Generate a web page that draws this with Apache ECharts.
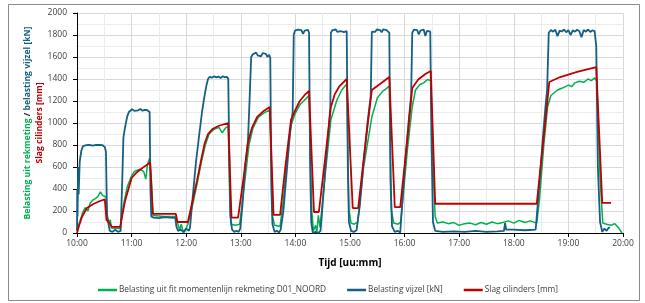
<!DOCTYPE html>
<html><head><meta charset="utf-8">
<script src="https://cdn.jsdelivr.net/npm/echarts@6/dist/echarts.min.js"></script>
<style>html,body{margin:0;padding:0;background:#fff}#c{width:645px;height:303px}</style>
</head><body><div id="c"></div>
<script>
// x in decimal hours (10 = 10:00)
const xTicks = [10,11,12,13,14,15,16,17,18,19,20];
const seriesNames = ['Belasting uit fit momentenlijn rekmeting D01_NOORD','Belasting vijzel [kN]','Slag cilinders [mm]'];

const greenData = [
[10.00,30],[10.02,40],[10.05,100],[10.10,180],[10.15,230],[10.18,240],[10.20,200],[10.24,270],[10.29,300],[10.33,310],[10.38,330],[10.43,375],[10.47,340],[10.53,330],[10.56,145],[10.58,90],[10.61,120],[10.63,45],[10.79,40],
[10.85,250],[10.92,420],[11.00,520],[11.05,560],[11.15,580],[11.22,560],[11.26,490],[11.29,620],[11.33,680],[11.36,500],[11.39,160],[11.60,150],[11.81,150],[11.84,90],[11.88,30],[11.91,80],[11.95,0],[11.98,20],[12.03,80],
[12.12,260],[12.20,450],[12.28,650],[12.35,800],[12.42,900],[12.50,940],[12.60,960],[12.66,910],[12.72,955],[12.77,970],[12.80,250],[12.82,80],[12.90,70],[12.98,80],
[13.08,500],[13.15,800],[13.22,950],[13.32,1050],[13.42,1090],[13.53,1120],[13.58,150],[13.62,70],[13.72,60],
[13.78,300],[13.85,700],[13.92,980],[14.00,1090],[14.08,1164],[14.18,1215],[14.25,1250],[14.30,200],[14.33,20],[14.37,70],[14.39,0],[14.42,160],[14.45,50],
[14.55,550],[14.65,1030],[14.76,1209],[14.85,1300],[14.94,1355],[14.98,200],[15.02,90],[15.08,80],[15.14,100],
[15.25,600],[15.40,1055],[15.50,1227],[15.60,1290],[15.66,1310],[15.72,1336],[15.76,200],[15.80,90],[15.88,80],[15.93,100],
[16.05,750],[16.14,1150],[16.20,1300],[16.28,1350],[16.35,1365],[16.42,1395],[16.48,1385],[16.52,600],[16.56,150],[16.60,90],[16.70,100],[16.80,85],[16.90,95],[17.00,70],[17.10,85],[17.20,90],[17.30,75],[17.40,95],[17.50,80],[17.60,100],[17.70,85],[17.80,95],[17.90,110],[18.00,90],[18.10,115],[18.20,95],[18.30,110],[18.42,90],
[18.47,300],[18.55,800],[18.62,1150],[18.68,1250],[18.80,1300],[18.90,1320],[19.00,1345],[19.06,1330],[19.12,1365],[19.20,1380],[19.28,1370],[19.36,1400],[19.42,1385],[19.48,1410],[19.52,1380],[19.58,500],[19.63,90],[19.70,80],[19.78,70],[19.85,85],[19.93,40],[19.98,0]
];

const blueData = [
[10.00,20],[10.005,400],[10.01,150],[10.02,600],[10.03,350],[10.05,650],[10.08,750],[10.11,790],[10.14,805],[10.17,798],[10.20,812],[10.23,800],[10.26,808],[10.29,795],[10.32,810],[10.35,802],[10.38,815],[10.41,800],[10.44,806],[10.47,798],[10.50,805],[10.51,780],[10.53,740],[10.55,150],[10.57,100],[10.60,20],[10.65,10],[10.70,30],[10.75,10],[10.80,20],
[10.81,30],[10.83,500],[10.85,870],[10.88,960],[10.92,1060],[10.95,1100],[10.98,1118],[11.01,1125],[11.05,1110],[11.08,1122],[11.12,1115],[11.16,1128],[11.20,1112],[11.24,1120],[11.28,1118],[11.31,1125],[11.33,1100],[11.345,400],[11.36,150],[11.40,140],[11.50,135],[11.60,145],[11.70,140],[11.80,138],[11.82,60],[11.85,20],[11.90,30],[11.95,10],[12.00,40],[12.05,20],
[12.07,50],[12.12,330],[12.18,650],[12.24,900],[12.29,1100],[12.33,1230],[12.37,1340],[12.40,1400],[12.43,1420],[12.47,1412],[12.51,1425],[12.55,1415],[12.59,1422],[12.63,1410],[12.67,1424],[12.71,1416],[12.75,1420],[12.77,1400],[12.79,700],[12.81,150],[12.84,30],[12.88,10],[12.92,20],[12.96,10],[12.99,40],
[13.03,250],[13.08,600],[13.13,830],[13.16,1200],[13.19,1600],[13.22,1625],[13.25,1610],[13.28,1640],[13.31,1615],[13.34,1630],[13.37,1605],[13.40,1635],[13.43,1618],[13.46,1628],[13.49,1600],[13.52,1620],[13.54,1590],[13.56,400],[13.58,80],[13.62,10],[13.66,20],[13.70,5],[13.73,30],
[13.78,200],[13.84,550],[13.90,900],[13.95,1100],[13.97,1800],[13.99,1840],[14.02,1825],[14.05,1848],[14.08,1830],[14.11,1845],[14.14,1810],[14.17,1840],[14.20,1832],[14.23,1846],[14.25,1820],[14.27,600],[14.29,100],[14.32,0],[14.37,10],[14.42,0],[14.46,20],
[14.49,200],[14.55,600],[14.61,950],[14.64,1150],[14.65,1820],[14.68,1845],[14.71,1830],[14.74,1850],[14.77,1828],[14.80,1842],[14.83,1835],[14.86,1848],[14.89,1826],[14.92,1840],[14.94,1835],[14.96,600],[14.98,100],[15.02,20],[15.07,10],[15.12,25],[15.15,10],
[15.18,250],[15.25,650],[15.32,1000],[15.38,1250],[15.40,1830],[15.43,1845],[15.46,1828],[15.49,1850],[15.52,1838],[15.55,1845],[15.58,1825],[15.61,1852],[15.64,1835],[15.67,1845],[15.70,1830],[15.72,1820],[15.74,500],[15.77,60],[15.82,10],[15.87,20],[15.92,5],
[15.96,300],[16.02,700],[16.08,1050],[16.12,1250],[16.14,1820],[16.17,1848],[16.20,1830],[16.23,1845],[16.26,1805],[16.29,1840],[16.32,1828],[16.35,1850],[16.38,1790],[16.41,1838],[16.44,1845],[16.47,1830],[16.49,900],[16.52,100],[16.56,20],[16.70,10],[16.90,15],[17.10,10],[17.30,20],[17.50,10],[17.70,15],[17.82,20],[17.84,90],[17.86,30],[18.00,30],[18.20,25],[18.40,30],[18.43,40],
[18.47,450],[18.53,850],[18.58,1150],[18.61,1300],[18.64,1820],[18.68,1845],[18.72,1830],[18.76,1848],[18.80,1790],[18.84,1840],[18.88,1832],[18.92,1850],[18.96,1825],[19.00,1845],[19.04,1800],[19.08,1842],[19.12,1830],[19.16,1848],[19.20,1835],[19.24,1780],[19.28,1845],[19.32,1830],[19.36,1850],[19.40,1828],[19.44,1842],[19.48,1835],[19.50,1840],[19.51,1700],[19.54,600],[19.58,100],[19.62,10],[19.66,40],[19.70,20],[19.74,50],[19.76,45]
];

const redData = [
[10.00,0],[10.04,70],[10.09,145],[10.18,227],[10.30,264],[10.42,291],[10.51,305],[10.54,118],[10.58,100],[10.64,55],[10.79,55],
[10.88,290],[11.00,500],[11.08,545],[11.15,573],[11.25,610],[11.34,640],[11.39,173],[11.81,173],[11.84,100],[12.03,100],
[12.12,300],[12.20,480],[12.28,680],[12.34,818],[12.40,900],[12.48,945],[12.60,975],[12.77,1000],[12.83,140],[12.95,140],
[13.05,500],[13.13,818],[13.20,950],[13.30,1055],[13.42,1110],[13.53,1145],[13.60,165],[13.72,165],
[13.82,620],[13.92,1030],[14.00,1120],[14.08,1200],[14.17,1255],[14.25,1291],[14.34,191],[14.43,191],
[14.55,700],[14.65,1145],[14.72,1260],[14.80,1330],[14.94,1400],[15.05,227],[15.15,227],
[15.28,800],[15.40,1300],[15.55,1355],[15.72,1418],[15.82,236],[15.92,236],
[16.05,850],[16.14,1318],[16.25,1395],[16.38,1445],[16.48,1473],[16.56,266],[18.42,266],
[18.55,880],[18.65,1373],[18.85,1418],[19.16,1464],[19.51,1509],[19.62,273],[19.78,273]
];

const chart = echarts.init(document.getElementById('c'), null, {renderer:'canvas'});
const FONT = '"Open Sans", "Noto Sans", sans-serif';
chart.setOption({
  animation:false,
  backgroundColor:'#ffffff',
  textStyle:{fontFamily:FONT},
  grid:{left:77, right:22, top:13, bottom:70, containLabel:false},
  graphic:[{type:'rect', shape:{x:8.5,y:4.5,width:631,height:296}, style:{fill:'none', stroke:'#8a8a8a', lineWidth:1}, silent:true, z:-1}],
  legend:{
    left:93, top:281, icon:'rect', itemWidth:19, itemHeight:2.5, itemGap:21,
    textStyle:{fontSize:8.3, color:'#404040', fontFamily:FONT, padding:[0,0,0,-3]},
    data:seriesNames
  },
  xAxis:{
    type:'value', min:10, max:20, interval:1,
    name:'Tijd [uu:mm]', nameLocation:'middle', nameGap:25, nameMoveOverlap:false,
    nameTextStyle:{fontSize:10, fontWeight:'bold', color:'#000', fontFamily:FONT},
    axisLine:{show:true, lineStyle:{color:'#000', width:1}},
    axisTick:{show:true, length:4, lineStyle:{color:'#000'}},
    axisLabel:{fontSize:8.5, color:'#404040', margin:6, formatter:v => xTicks.includes(v) ? v + ':00' : ''},
    splitLine:{show:true, lineStyle:{color:'#d9d9d9', width:1}},
    minorTick:{show:false, splitNumber:2},
    minorSplitLine:{show:true, lineStyle:{color:'#ececec', width:1}}
  },
  yAxis:{
    type:'value', min:0, max:2000, interval:200,
    name:'{g|Belasting uit rekmeting} {k|/} {b|belasting vijzel [kN]}\n{r|Slag cilinders [mm]}',
    nameLocation:'middle', nameRotate:90, nameGap:31, nameMoveOverlap:false,
    nameTextStyle:{
      fontSize:8.6, fontWeight:'bold', fontFamily:FONT, lineHeight:12,
      rich:{
        g:{color:'#00B050', fontWeight:'bold', fontSize:8.6, fontFamily:FONT},
        k:{color:'#262626', fontWeight:'bold', fontSize:8.6, fontFamily:FONT},
        b:{color:'#156082', fontWeight:'bold', fontSize:8.6, fontFamily:FONT},
        r:{color:'#C00000', fontWeight:'bold', fontSize:8.6, fontFamily:FONT}
      }
    },
    axisLine:{show:true, lineStyle:{color:'#000', width:1}},
    axisTick:{show:true, length:4, lineStyle:{color:'#000'}},
    axisLabel:{fontSize:8.5, color:'#404040', margin:10, formatter:v => String(v)},
    splitLine:{show:true, lineStyle:{color:'#d9d9d9', width:1}},
    minorTick:{show:false, splitNumber:2},
    minorSplitLine:{show:true, lineStyle:{color:'#ececec', width:1}}
  },
  series:[
    {name:seriesNames[0], type:'line', data:greenData, showSymbol:false, symbol:'none', lineStyle:{color:'#00B050', width:1.5}, itemStyle:{color:'#00B050'}},
    {name:seriesNames[1], type:'line', data:blueData, showSymbol:false, symbol:'none', lineStyle:{color:'#156082', width:1.8}, itemStyle:{color:'#156082'}},
    {name:seriesNames[2], type:'line', data:redData, showSymbol:false, symbol:'none', lineStyle:{color:'#C00000', width:1.8}, itemStyle:{color:'#C00000'}}
  ]
});
</script></body></html>
